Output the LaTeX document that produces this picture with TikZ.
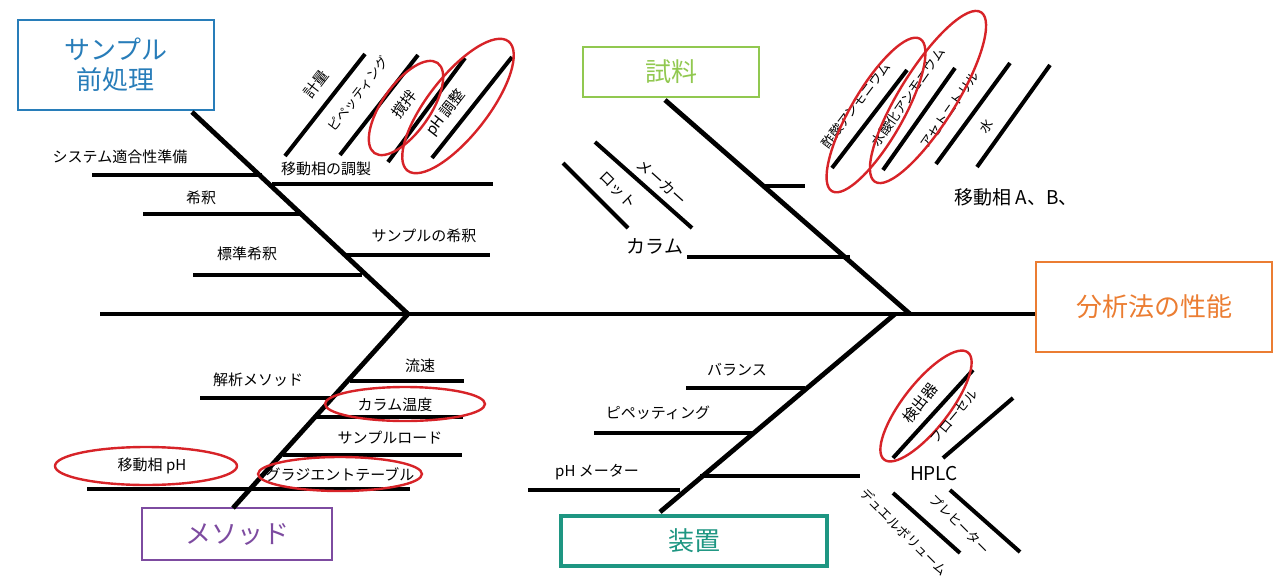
\documentclass[tikz,border=0pt]{standalone}
\usepackage{fontspec}
\setmainfont{Noto Sans CJK JP}
\usetikzlibrary{shapes.geometric}
\definecolor{bluebox}{RGB}{40,125,185}
\definecolor{greenbox}{RGB}{145,200,80}
\definecolor{orangebox}{RGB}{235,125,50}
\definecolor{purplebox}{RGB}{125,75,160}
\definecolor{tealbox}{RGB}{30,150,130}
\definecolor{ring}{RGB}{215,35,40}
\tikzset{
  bone/.style={line width=2.4pt,black},
  twig/.style={line width=2pt,black},
  catbox/.style={draw,line width=1.2pt,font=\fontsize{13}{15}\selectfont,align=center},
  lbl/.style={font=\fontsize{7.5}{9}\selectfont,inner sep=0pt},
  smlbl/.style={font=\fontsize{6.5}{8}\selectfont,inner sep=0pt},
  biglbl/.style={font=\fontsize{9.5}{11}\selectfont,inner sep=0pt},
  redring/.style={draw=ring,line width=1.2pt,ellipse,inner sep=0pt}
}
\begin{document}
\begin{tikzpicture}[x=0.5pt,y=-0.5pt]
   \useasboundingbox (0,0) rectangle (1280,584);
   % spine and effect
   \draw [bone] (100,314) -- (1035,314);
   \node [catbox,draw=orangebox,text=orangebox,minimum width=118pt,minimum height=45pt] (effect) at (1154,307) {分析法の性能};
   % category boxes
   \node [catbox,draw=bluebox,text=bluebox,minimum width=98pt,minimum height=45pt] (prep) at (116,65) {サンプル\\前処理};
   \node [catbox,draw=greenbox,text=greenbox,minimum width=88pt,minimum height=25pt] (sample) at (671,72) {試料};
   \node [catbox,draw=purplebox,text=purplebox,minimum width=95pt,minimum height=26pt] (method) at (237,534) {メソッド};
   \node [catbox,draw=tealbox,text=tealbox,line width=1.8pt,minimum width=133pt,minimum height=25pt] (equip) at (694,541) {装置};
   % main bones
   \draw [bone] (192,112) -- (408,314);
   \draw [bone] (665,100) -- (910,314);
   \draw [bone] (233,508) -- (408,314);
   \draw [bone] (660,512) -- (895,314);
   % sample prep
   \draw [twig] (92,175) -- (262,175);
   \node [lbl] (sst) at (120,157) {システム適合性準備};
   \draw [twig] (272,184) -- (493,184);
   \node [lbl] (mpprep) at (326,169) {移動相の調製};
   \draw [twig] (285,156) -- (365,54);
   \node [lbl,rotate=52] (weigh) at (316,84) {計量};
   \draw [twig] (340,155) -- (418,55);
   \node [smlbl,rotate=52] (pipet1) at (358,94) {ピペッティング};
   \draw [twig] (388,162) -- (465,58);
   \node [lbl,rotate=52] (stir) at (404,104) {撹拌};
   \draw [twig] (432,158) -- (512,57);
   \node [lbl,rotate=52] (phadj) at (446,113) {pH 調整};
   \node [redring,rotate=55,minimum width=55pt,minimum height=24pt] (ringstir) at (406,108) {};
   \node [redring,rotate=52,minimum width=82pt,minimum height=30pt] (ringph) at (458,106) {};
   \draw [twig] (143,214) -- (300,214);
   \node [lbl] (dil) at (201,198) {希釈};
   \draw [twig] (345,255) -- (490,255);
   \node [lbl] (sdil) at (424,236) {サンプルの希釈};
   \draw [twig] (193,275) -- (362,275);
   \node [lbl] (stddil) at (247,254) {標準希釈};
   % sample
   \draw [twig] (687,257) -- (850,257);
   \node [biglbl] (column) at (655,246) {カラム};
   \draw [twig] (595,142) -- (692,228);
   \node [lbl,rotate=-42] (maker) at (662,182) {メーカー};
   \draw [twig] (563,163) -- (628,228);
   \node [lbl,rotate=-45] (lot) at (618,190) {ロット};
   \draw [twig] (762,186) -- (805,186);
   \draw [twig] (832,168) -- (907,70);
   \node [smlbl,rotate=53] (ammac) at (856,105) {酢酸アンモニウム};
   \draw [twig] (883,170) -- (955,68);
   \node [smlbl,rotate=55] (ammoh) at (908,97) {水酸化アンモニウム};
   \draw [twig] (936,164) -- (1010,63);
   \node [smlbl,rotate=55] (acn) at (950,110) {アセトニトリル};
   \draw [twig] (977,167) -- (1050,65);
   \node [smlbl,rotate=55] (water) at (986,126) {水};
   \node [redring,rotate=60,minimum width=88pt,minimum height=26pt] (ringac) at (876,115) {};
   \node [redring,rotate=58,minimum width=100pt,minimum height=28pt] (ringoh) at (928,97) {};
   \node [biglbl] (mpab) at (1016,197) {移動相 A、B、};
   % method
   \draw [twig] (350,381) -- (464,381);
   \node [lbl] (flow) at (420,366) {流速};
   \draw [twig] (200,398) -- (330,398);
   \node [lbl] (anmeth) at (258,380) {解析メソッド};
   \draw [twig] (317,417) -- (463,417);
   \node [lbl] (coltemp) at (395,405) {カラム温度};
   \node [redring,minimum width=80pt,minimum height=17pt] (ringct) at (405,404) {};
   \draw [twig] (283,455) -- (462,455);
   \node [lbl] (sload) at (390,438) {サンプルロード};
   \draw [twig] (87,489) -- (410,489);
   \node [lbl] (mpph) at (152,466) {移動相 pH};
   \node [redring,minimum width=91pt,minimum height=19pt] (ringmp) at (146,466) {};
   \node [lbl] (grad) at (340,475) {グラジエントテーブル};
   \node [redring,minimum width=82pt,minimum height=17pt] (ringgr) at (340,474) {};
   % equipment
   \draw [twig] (686,388) -- (805,388);
   \node [lbl] (balance) at (737,370) {バランス};
   \draw [twig] (594,433) -- (755,433);
   \node [lbl] (pipet2) at (658,413) {ピペッティング};
   \draw [twig] (528,490) -- (680,490);
   \node [lbl] (phm) at (597,472) {pH メーター};
   \draw [twig] (700,476) -- (860,476);
   \node [biglbl] (hplc) at (934,474) {HPLC};
   \draw [twig] (893,458) -- (973,370);
   \node [lbl,rotate=52] (detect) at (920,403) {検出器};
   \node [redring,rotate=52,minimum width=68pt,minimum height=23pt] (ringdet) at (926,406) {};
   \draw [twig] (943,458) -- (1013,398);
   \node [smlbl,rotate=50] (fcell) at (954,416) {フローセル};
   \draw [twig] (893,493) -- (960,553);
   \node [smlbl,rotate=-45] (dual) at (904,532) {デュエルボリューム};
   \draw [twig] (950,490) -- (1020,552);
   \node [smlbl,rotate=-45] (preheat) at (960,524) {プレヒーター};
\end{tikzpicture}
\end{document}
